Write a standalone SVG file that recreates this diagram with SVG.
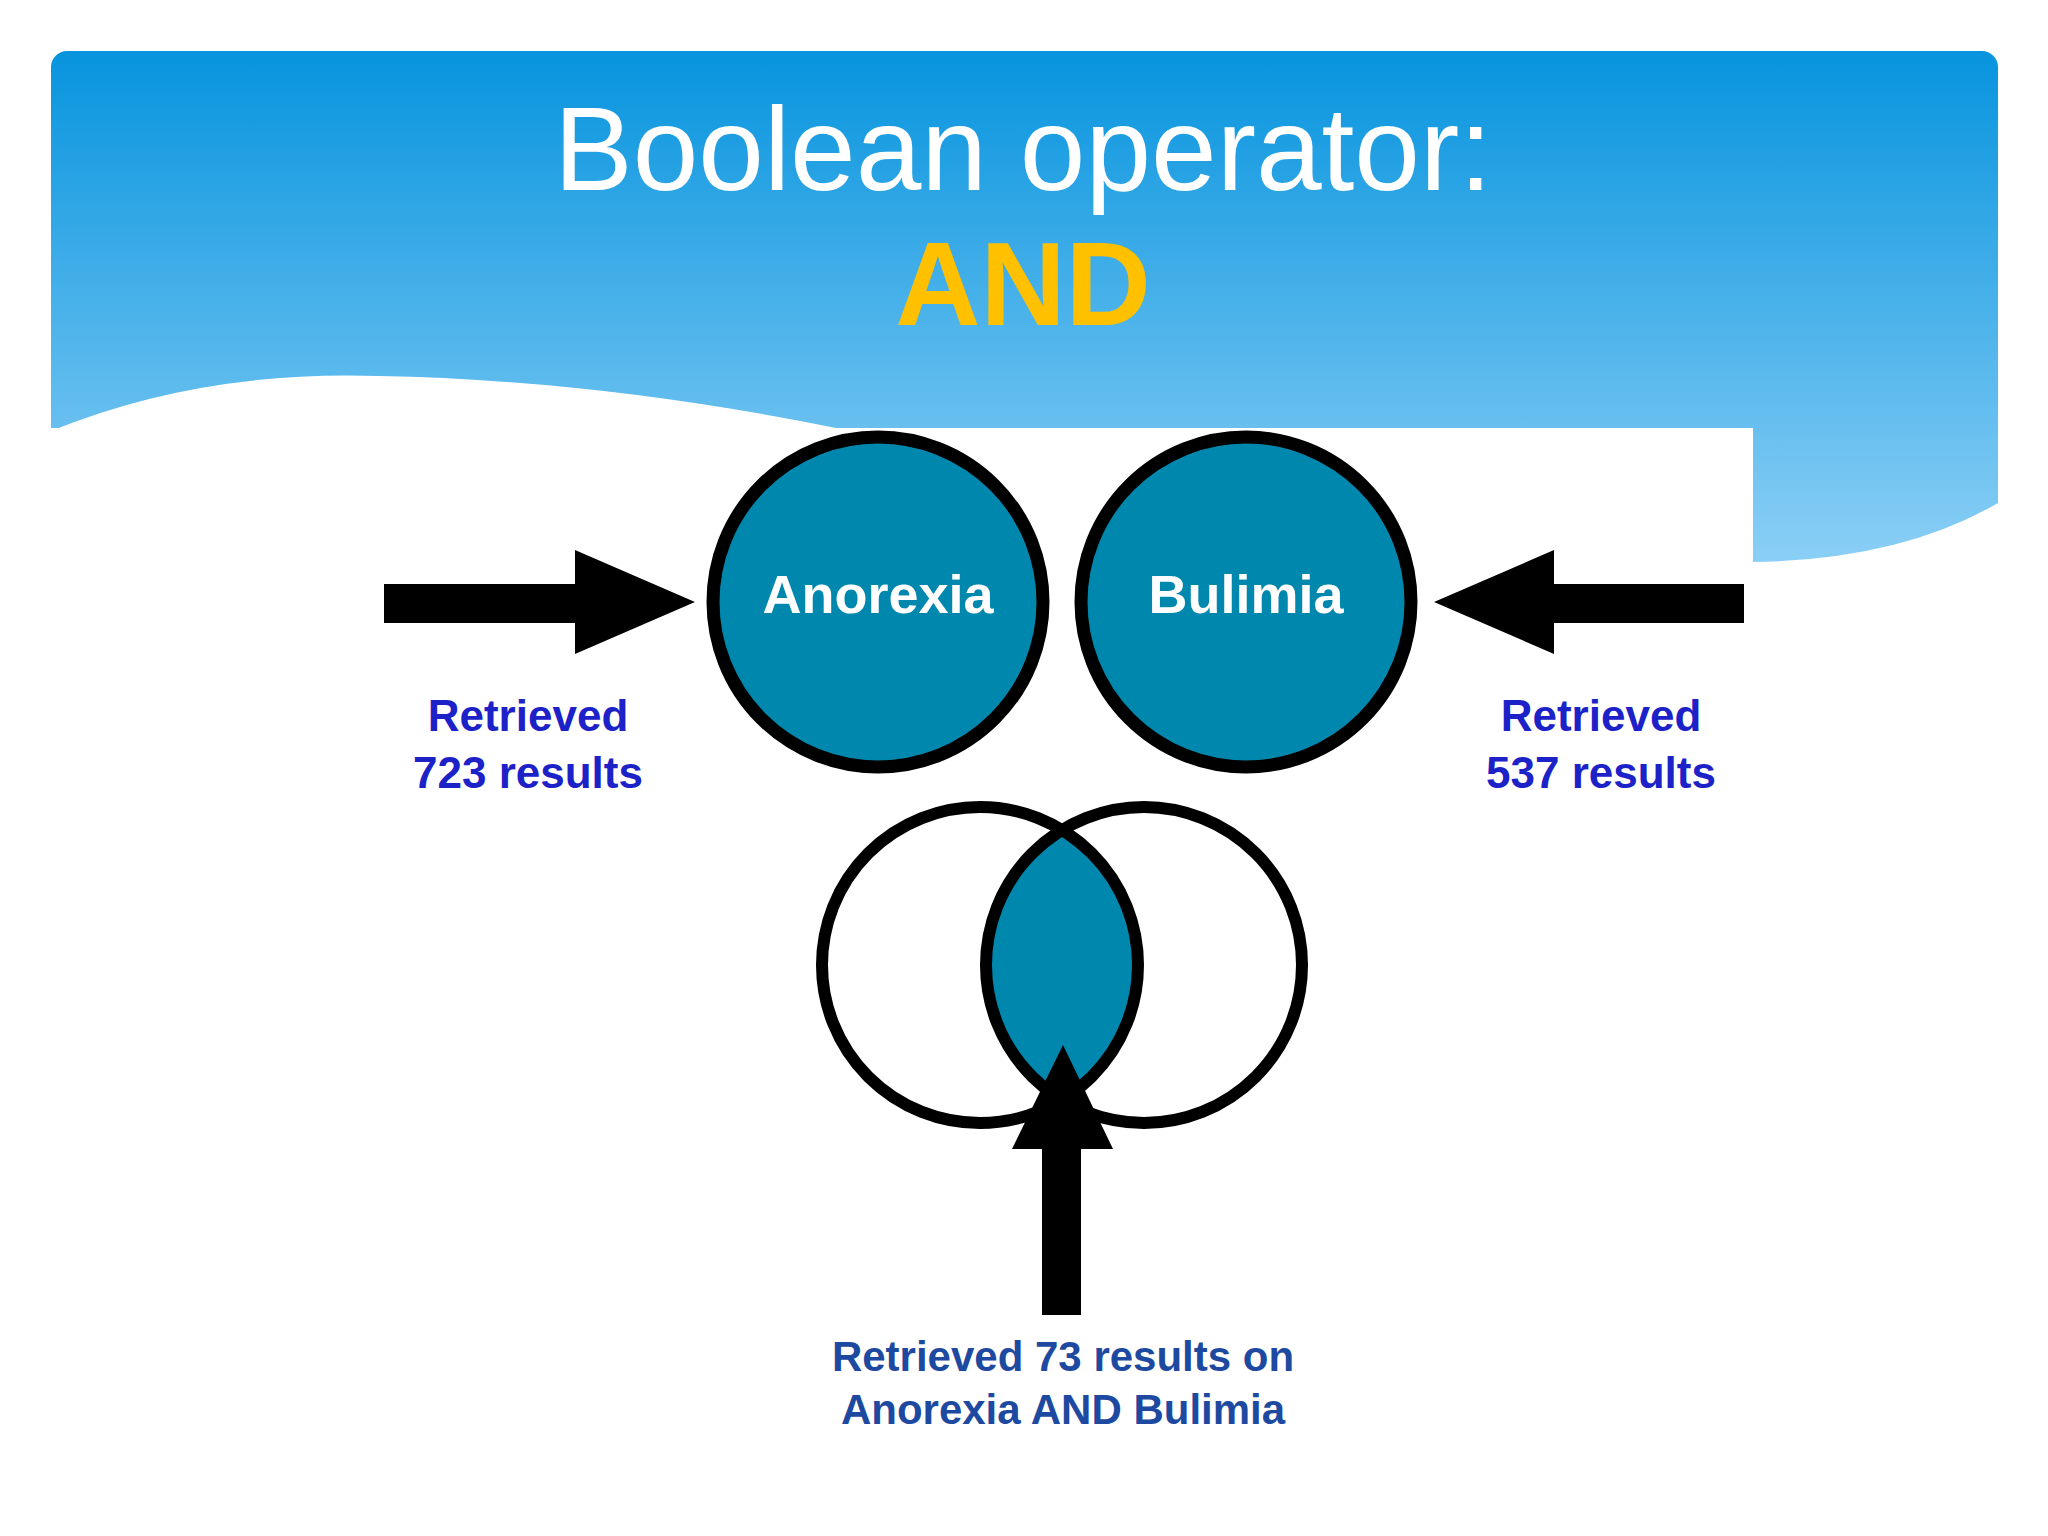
<svg xmlns="http://www.w3.org/2000/svg" width="2048" height="1536" viewBox="0 0 2048 1536">
<defs>
<linearGradient id="hdr" x1="0" y1="0" x2="0" y2="1">
<stop offset="0" stop-color="#0794de"/>
<stop offset="1" stop-color="#8dd0f6"/>
</linearGradient>
<style>
.lbl{font-family:"Liberation Sans",Arial,sans-serif;font-weight:bold;font-size:44px;fill:#1c22c8;text-anchor:middle}
.bot{font-family:"Liberation Sans",Arial,sans-serif;font-weight:bold;font-size:42px;fill:#1d4aa0;text-anchor:middle}
.circ{fill:#0087ad;stroke:#000;stroke-width:13}
.ctext{font-family:"Liberation Sans",Arial,sans-serif;font-weight:bold;font-size:54px;fill:#fff;text-anchor:middle}
</style>
</defs>
<rect width="2048" height="1536" fill="#fff"/>
<g id="header">
<rect x="51" y="51" width="1947" height="520" rx="16" fill="url(#hdr)"/>
<path d="M1753 562 Q1900 560 1998 503 L1998 620 L1753 620 Z" fill="#fff"/>
<path d="M51 431 Q200 370 379 376 Q600 380 836 428 L51 428 Z" fill="#fff"/>
<rect x="51" y="428" width="1702" height="1108" fill="#fff"/>
<rect x="0" y="560" width="2048" height="976" fill="#fff" opacity="0"/>
<text x="1023" y="190" font-family="Liberation Sans,Arial,sans-serif" font-size="118" fill="#fff" text-anchor="middle">Boolean operator:</text>
<text x="1023" y="325" font-family="Liberation Sans,Arial,sans-serif" font-size="118" font-weight="bold" fill="#ffc000" text-anchor="middle">AND</text>
</g>
<g id="anorexia">
<circle class="circ" cx="878" cy="602" r="165"/>
<text class="ctext" x="878" y="613">Anorexia</text>
</g>
<g id="bulimia">
<circle class="circ" cx="1246" cy="602" r="165"/>
<text class="ctext" x="1246" y="613">Bulimia</text>
</g>
<g id="venn">
<path d="M1062 828 A160 160 0 0 1 1062 1102 A160 160 0 0 1 1062 828 Z" fill="#0087ad"/>
<circle cx="980" cy="965" r="158" fill="none" stroke="#000" stroke-width="12"/>
<circle cx="1144" cy="965" r="158" fill="none" stroke="#000" stroke-width="12"/>
</g>
<g id="connectors" fill="#000">
<path d="M384 584 H575 V550 L695 602 L575 654 V623 H384 Z"/>
<path d="M1744 584 H1554 V550 L1434 602 L1554 654 V623 H1744 Z"/>
<path d="M1042 1315 V1149 H1012 L1063 1045 L1113 1149 H1081 V1315 Z"/>
</g>
<g id="labels">
<text class="lbl" x="528" y="731">Retrieved</text>
<text class="lbl" x="528" y="788">723 results</text>
<text class="lbl" x="1601" y="731">Retrieved</text>
<text class="lbl" x="1601" y="788">537 results</text>
<text class="bot" x="1063" y="1371">Retrieved 73 results on</text>
<text class="bot" x="1063" y="1424">Anorexia AND Bulimia</text>
</g>
</svg>
